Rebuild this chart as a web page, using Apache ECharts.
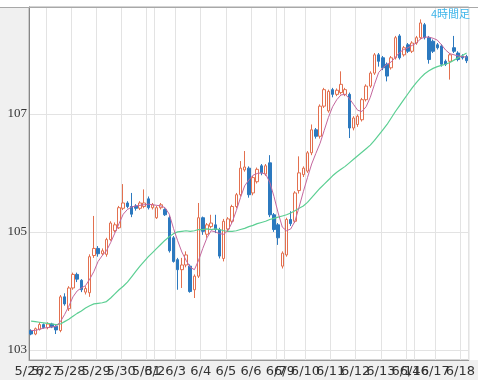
<!DOCTYPE html>
<html><head><meta charset="utf-8">
<script src="https://cdn.jsdelivr.net/npm/echarts@6/dist/echarts.min.js"></script>
<style>html,body{margin:0;padding:0;background:#fff}#c{width:478px;height:380px}</style>
</head><body><div id="c"></div>
<script>
// trading days (JST) and number of 4-hour candles in each
var days = ['5/26','5/27','5/28','5/29','5/30','5/31','6/2','6/3','6/4','6/5','6/6','6/7','6/9','6/10','6/11','6/12','6/13','6/14','6/16','6/17','6/18'];
var dayCounts = [4,6,6,6,6,2,5,6,6,6,6,2,5,6,6,6,6,2,5,6,2];
var yTicks = [103, 105, 107];
var periodLabel = '4時間足';
// candles: [open, close, low, high]
var candles = [
[103.33,103.27,103.25,103.35],[103.27,103.36,103.25,103.38],[103.35,103.43,103.33,103.47],[103.43,103.38,103.36,103.45],
[103.38,103.44,103.35,103.47],[103.44,103.39,103.37,103.46],[103.40,103.34,103.27,103.42],[103.33,103.90,103.30,103.93],[103.90,103.78,103.75,103.96],[103.70,104.05,103.66,104.08],
[104.05,104.28,104.02,104.31],[104.28,104.20,104.15,104.31],[104.18,104.02,103.98,104.20],[103.98,104.04,103.94,104.08],[103.97,104.58,103.90,104.62],[104.60,104.72,104.56,105.27],
[104.72,104.63,104.58,104.76],[104.63,104.68,104.60,104.72],[104.62,104.87,104.58,104.90],[104.87,105.15,104.85,105.18],[105.02,105.12,104.99,105.16],[105.07,105.41,105.05,105.44],
[105.40,105.49,105.37,105.81],[105.49,105.43,105.40,105.52],[105.43,105.30,105.25,105.66],[105.44,105.40,105.36,105.47],[105.40,105.49,105.37,105.52],[105.43,105.49,105.40,105.72],
[105.56,105.41,105.38,105.60],[105.41,105.46,105.38,105.49],
[105.24,105.41,105.22,105.44],[105.41,105.46,105.38,105.49],[105.38,105.29,105.27,105.40],[105.24,104.68,104.65,105.28],[104.90,104.50,104.48,104.93],
[104.53,104.36,104.02,104.56],[104.36,104.44,104.05,104.56],[104.44,104.61,104.40,104.67],[104.42,103.99,103.97,104.45],[104.02,104.25,103.88,104.28],[104.25,105.24,104.22,105.49],
[105.24,105.01,104.95,105.26],[104.96,105.12,104.90,105.15],[105.09,105.15,105.06,105.29],[105.12,105.04,104.98,105.29],[105.04,104.59,104.55,105.07],[104.55,105.18,104.50,105.22],
[105.05,105.22,105.00,105.25],[105.18,105.43,105.15,105.46],[105.43,105.63,105.40,105.66],[105.63,106.08,105.60,106.20],[106.05,106.10,106.02,106.37],[106.08,105.63,105.58,106.11],
[105.66,105.92,105.62,105.95],[105.85,106.06,105.82,106.09],[106.12,106.00,105.96,106.15],[105.98,106.12,105.95,106.15],[106.17,105.29,105.25,106.30],[105.29,105.04,105.00,105.32],
[105.12,104.90,104.78,105.15],[104.42,104.64,104.38,104.67],
[104.61,105.21,104.58,105.24],[105.21,105.14,105.10,105.35],[105.18,105.66,105.15,105.69],[105.70,106.00,105.65,106.28],[105.97,106.08,105.93,106.11],
[106.03,106.34,106.00,106.37],[106.34,106.73,106.30,106.82],[106.73,106.62,106.58,106.76],[106.62,107.13,106.58,107.16],[107.13,107.41,107.10,107.44],[107.05,107.38,107.02,107.41],
[107.41,107.33,107.28,107.44],[107.33,107.40,107.30,107.43],[107.36,107.50,107.33,107.72],[107.33,107.41,107.30,107.44],[107.33,106.76,106.59,107.36],[106.76,106.93,106.72,106.96],
[106.82,106.96,106.78,106.99],[106.90,107.24,106.87,107.27],[107.24,107.47,107.21,107.50],[107.47,107.69,107.44,107.72],[107.69,108.00,107.66,108.03],[108.00,107.89,107.80,108.03],
[107.95,107.78,107.74,107.98],[107.84,107.64,107.55,107.87],[107.78,107.95,107.75,107.98],[107.95,108.29,107.92,108.32],[108.32,107.95,107.92,108.35],[108.00,108.12,107.97,108.15],
[108.17,108.06,108.03,108.20],[108.06,108.20,108.03,108.23],
[108.20,108.29,108.17,108.32],[108.29,108.54,108.26,108.60],[108.51,108.29,108.26,108.54],[108.29,107.92,107.85,108.32],[108.23,108.06,108.03,108.26],
[108.17,108.12,108.09,108.20],[108.15,107.84,107.80,108.18],[107.89,107.84,107.81,107.92],[107.89,108.00,107.58,108.03],[108.12,108.06,108.03,108.32],[108.03,107.92,107.89,108.06],
[107.98,107.95,107.92,108.01],[107.97,107.90,107.86,108.00]
];
// short moving average (pink)
var maShort = [103.33,103.33,103.35,103.37,103.38,103.39,103.40,103.48,103.60,103.74,103.90,104.00,104.05,104.09,104.20,104.33,104.50,104.60,104.68,104.82,104.98,105.14,105.30,105.38,105.42,105.44,105.45,105.46,105.47,105.46,105.45,105.44,105.41,105.30,105.06,104.85,104.66,104.52,104.40,104.36,104.52,104.72,104.90,105.02,105.00,104.97,104.96,105.02,105.16,105.36,105.58,105.78,105.88,105.96,105.99,106.00,105.98,105.84,105.60,105.32,105.08,105.02,105.05,105.18,105.42,105.68,105.92,106.15,106.33,106.50,106.72,106.94,107.12,107.24,107.32,107.33,107.26,107.16,107.06,107.04,107.12,107.28,107.50,107.70,107.78,107.84,107.88,107.96,108.04,108.09,108.12,108.16,108.20,108.27,108.30,108.30,108.28,108.25,108.17,108.08,108.02,108.00,107.98,107.97,107.96];
// long moving average (green)
var maLong = [103.49,103.48,103.47,103.46,103.45,103.44,103.43,103.44,103.48,103.52,103.57,103.62,103.66,103.71,103.75,103.78,103.79,103.80,103.82,103.88,103.95,104.02,104.08,104.15,104.24,104.33,104.42,104.50,104.58,104.65,104.72,104.79,104.86,104.92,104.97,105.00,105.01,105.02,105.01,105.02,105.04,105.04,105.05,105.04,105.05,105.04,105.02,105.01,105.01,105.02,105.04,105.06,105.09,105.11,105.14,105.16,105.18,105.21,105.23,105.25,105.27,105.29,105.32,105.36,105.40,105.44,105.50,105.58,105.66,105.74,105.81,105.88,105.95,106.01,106.06,106.11,106.17,106.23,106.29,106.35,106.41,106.47,106.55,106.64,106.73,106.82,106.93,107.04,107.14,107.24,107.34,107.44,107.53,107.61,107.68,107.73,107.77,107.80,107.82,107.84,107.87,107.91,107.95,107.99,108.03];

var cats = [], dayStart = {};
days.forEach(function (d, k) {
  dayStart[cats.length] = true;
  for (var j = 0; j < dayCounts[k]; j++) cats.push(d + ' #' + (j + 1));
});
function isDayStart(idx) { return !!dayStart[idx]; }
// blank spacer labels keep ECharts' min/max overlap check from hiding real day labels
var spacerIdx = {2: true};
spacerIdx[cats.length - 1] = true;
function showLabel(idx) { return isDayStart(idx) || !!spacerIdx[idx]; }

var chart = echarts.init(document.getElementById('c'), null, {renderer: 'canvas'});
chart.setOption({
  animation: false,
  backgroundColor: '#fff',
  graphic: [
    {type: 'rect', z: -10, shape: {x: 0, y: 7, width: 29, height: 373}, style: {fill: '#f0f0f0'}},
    {type: 'rect', z: -10, shape: {x: 0, y: 360, width: 478, height: 20}, style: {fill: '#f0f0f0'}},
    {type: 'line', z: 10, shape: {x1: 0, y1: 7.5, x2: 478, y2: 7.5}, style: {stroke: '#a8a8a8', lineWidth: 1}},
    {type: 'text', z: 10, right: 8, top: 8, style: {text: periodLabel, fill: '#3cb4ea', font: '11px "Noto Sans CJK JP"'}}
  ],
  grid: {left: 29, right: 8, top: 7, bottom: 20, show: true, backgroundColor: '#fff', borderColor: '#a8a8a8', borderWidth: 1},
  xAxis: {
    type: 'category', data: cats, boundaryGap: true,
    axisLine: {show: true, lineStyle: {color: '#999'}},
    axisTick: {show: false},
    axisLabel: {interval: function (i) { return showLabel(i); },
      formatter: function (v, i) { return isDayStart(i) ? v.split(' ')[0] : ' '; },
      color: '#333', fontSize: 13, fontFamily: 'DejaVu Sans', margin: 5, padding: [0, 4, 0, 0],
      hideOverlap: false, showMinLabel: true, showMaxLabel: false},
    splitLine: {show: true, interval: function (i) { return isDayStart(i); }, lineStyle: {color: '#e3e3e3', width: 1}}
  },
  yAxis: {
    type: 'value', min: 102.83, max: 108.81, scale: true,
    axisLine: {show: true, lineStyle: {color: '#888'}},
    axisTick: {show: false, customValues: yTicks},
    axisLabel: {customValues: yTicks, color: '#333', fontSize: 13, fontFamily: 'Liberation Sans Narrow', margin: 2},
    splitLine: {show: true, lineStyle: {color: '#e3e3e3', width: 1}}
  },
  series: [
    {type: 'candlestick', data: candles, barWidth: 3, z: 2,
      itemStyle: {color: '#ffffff', color0: '#2c79bf', borderColor: '#e3704f', borderColor0: '#2c79bf', borderWidth: 1}},
    {type: 'line', data: maLong, symbol: 'none', z: 3, lineStyle: {color: '#5ccf93', width: 1.2}},
    {type: 'line', data: maShort, symbol: 'none', z: 4, lineStyle: {color: '#c4679e', width: 1}}
  ]
});
</script></body></html>
